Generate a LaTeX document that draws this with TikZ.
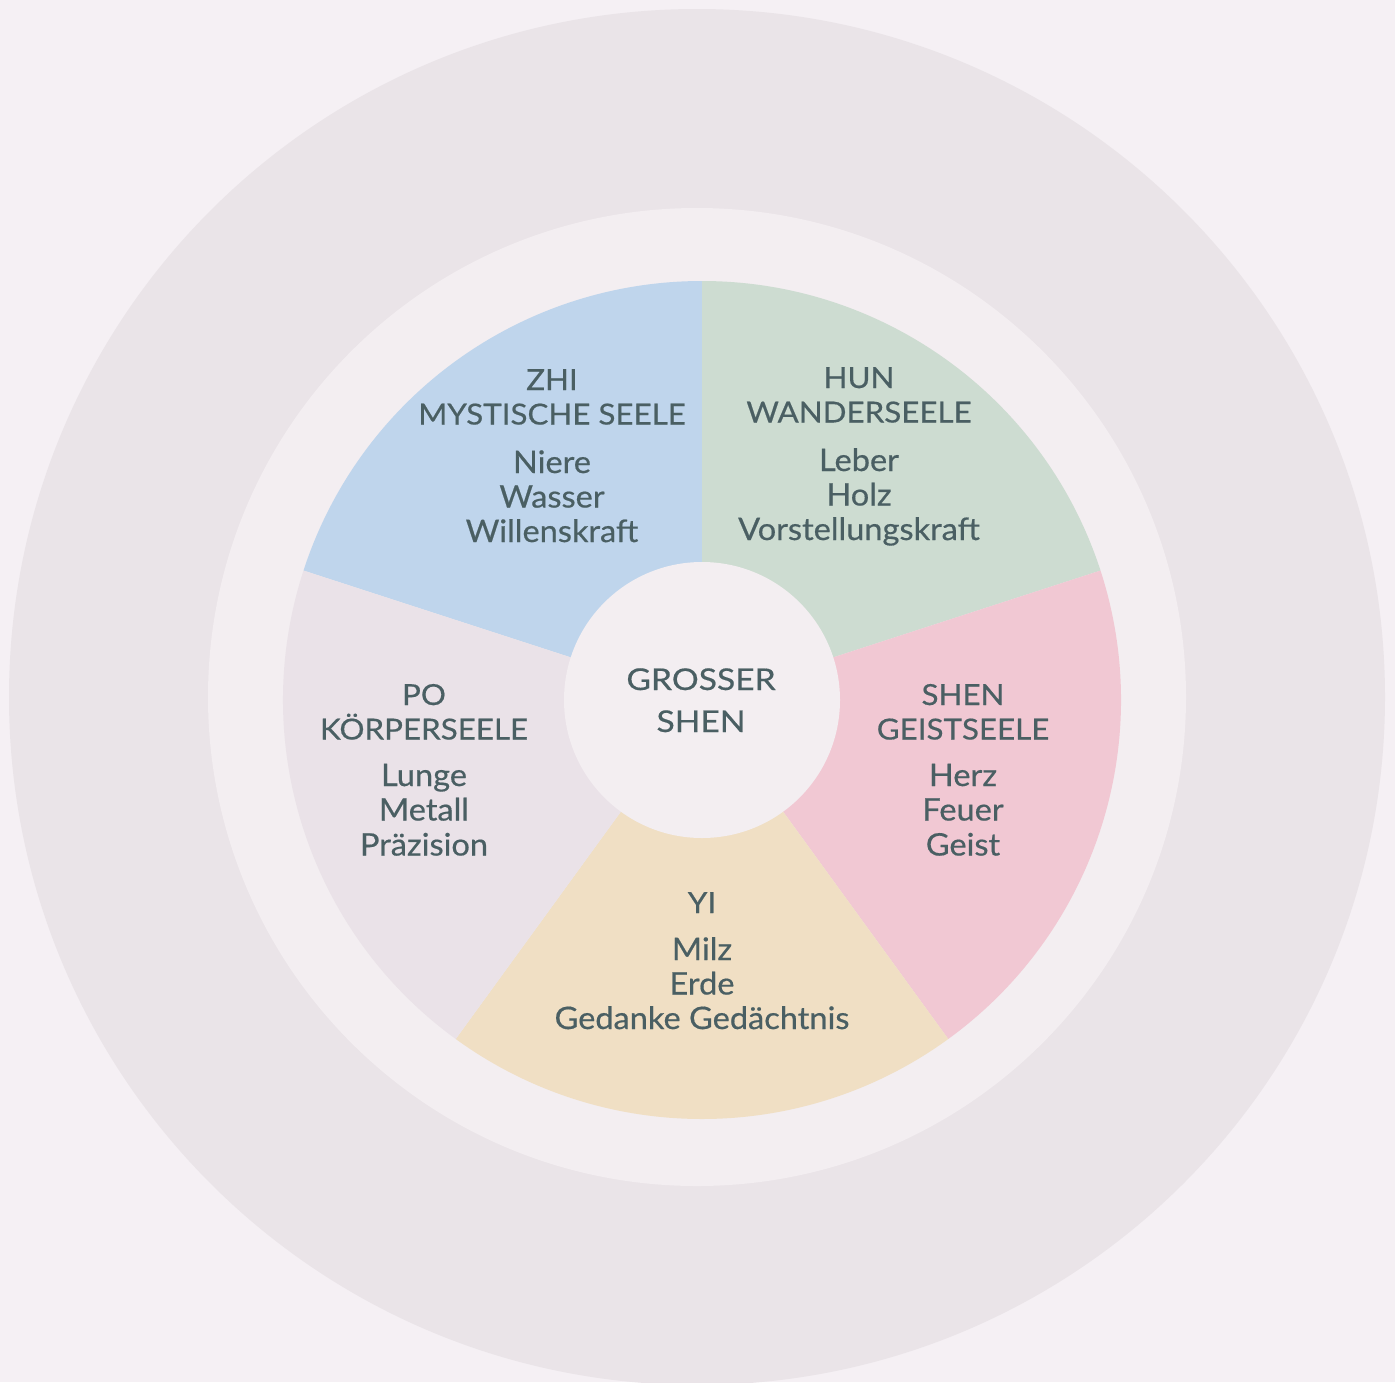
\documentclass[tikz,border=0pt]{standalone}
\usepackage{fontspec}
\newfontfamily\hfont[FakeStretch=1.08,FakeBold=0.5]{Lato}
\newfontfamily\bfont[FakeStretch=1.05,FakeBold=0.5]{Lato}
\newfontfamily\cfont[FakeStretch=1.12,FakeBold=0.5]{Lato}
\definecolor{bgc}{HTML}{F5F0F4}
\definecolor{outerc}{HTML}{EAE4E8}
\definecolor{ringc}{HTML}{F3EEF1}
\definecolor{zhic}{HTML}{BFD5EC}
\definecolor{hunc}{HTML}{CDDCD1}
\definecolor{shenc}{HTML}{F1C8D3}
\definecolor{yic}{HTML}{F0DFC4}
\definecolor{poc}{HTML}{EAE2E8}
\definecolor{ink}{HTML}{4A5F63}
\begin{document}
\begin{tikzpicture}[x=1pt,y=-1pt,
  txt/.style={anchor=base,inner sep=0pt,text=ink},
  head/.style={txt,font=\hfont\fontsize{29}{34}\selectfont},
  body/.style={txt,font=\bfont\fontsize{31}{34}\selectfont},
  core/.style={txt,font=\cfont\fontsize{30}{34}\selectfont}]
\useasboundingbox (0,0) rectangle (1395,1382);
\fill[bgc] (0,0) rectangle (1395,1382);
\coordinate (o) at (697,697);
\coordinate (c) at (702,700);
\fill[outerc] (o) circle[radius=688];
\fill[ringc] (o) circle[radius=489];
% sectors
\fill[zhic]  (c) -- ++(-90:419) arc[start angle=-90, end angle=-162, radius=419] -- cycle;
\fill[hunc]  (c) -- ++(-18:419) arc[start angle=-18, end angle=-90, radius=419] -- cycle;
\fill[shenc] (c) -- ++(54:419) arc[start angle=54, end angle=-18, radius=419] -- cycle;
\fill[yic]   (c) -- ++(126:419) arc[start angle=126, end angle=54, radius=419] -- cycle;
\fill[poc]   (c) -- ++(198:419) arc[start angle=198, end angle=126, radius=419] -- cycle;
\fill[ringc] (c) circle[radius=138];
% ZHI
\node[head] (zhi1) at (552,390) {ZHI};
\node[head] (zhi2) at (552,424.5) {MYSTISCHE SEELE};
\node[body] (zhi3) at (552,473) {Niere};
\node[body] (zhi4) at (552,507.5) {Wasser};
\node[body] (zhi5) at (552,542) {Willenskraft};
% HUN
\node[head] (hun1) at (859,388) {HUN};
\node[head] (hun2) at (859,422.5) {WANDERSEELE};
\node[body] (hun3) at (859,471) {Leber};
\node[body] (hun4) at (859,505.5) {Holz};
\node[body] (hun5) at (859,540) {Vorstellungskraft};
% PO
\node[head] (po1) at (424,705) {PO};
\node[head] (po2) at (424,739.5) {KÖRPERSEELE};
\node[body] (po3) at (424,786) {Lunge};
\node[body] (po4) at (424,820.5) {Metall};
\node[body] (po5) at (424,855.5) {Präzision};
% SHEN
\node[head] (shen1) at (963,705) {SHEN};
\node[head] (shen2) at (963,739.5) {GEISTSEELE};
\node[body] (shen3) at (963,786) {Herz};
\node[body] (shen4) at (963,820.5) {Feuer};
\node[body] (shen5) at (963,855.5) {Geist};
% YI
\node[head] (yi1) at (702,913) {YI};
\node[body] (yi2) at (702,960) {Milz};
\node[body] (yi3) at (702,994.5) {Erde};
\node[body] (yi4) at (702,1029) {Gedanke Gedächtnis};
% centre
\node[core] (gs1) at (701,690) {GROSSER};
\node[core] (gs2) at (701,732) {SHEN};
\end{tikzpicture}
\end{document}
